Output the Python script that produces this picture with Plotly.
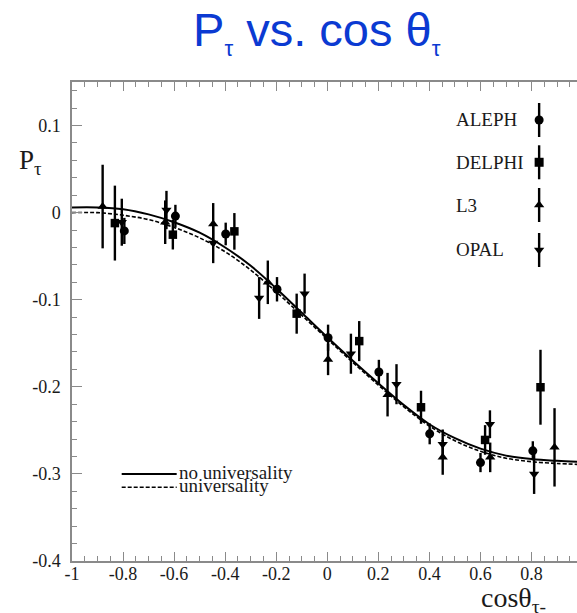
import plotly.graph_objects as go

# ---------------- data ----------------
aleph_x = [-0.795, -0.595, -0.398, -0.197, 0.003, 0.202, 0.401, 0.600, 0.805]
aleph_y = [-0.021, -0.004, -0.0245, -0.088, -0.1436, -0.183, -0.254, -0.287, -0.2735]
aleph_e = [0.015, 0.013, 0.013, 0.014, 0.015, 0.014, 0.012, 0.011, 0.011]

delphi_x = [-0.832, -0.605, -0.364, -0.12, 0.125, 0.367, 0.618, 0.835]
delphi_y = [-0.012, -0.0253, -0.0215, -0.116, -0.1475, -0.2235, -0.261, -0.2005]
delphi_e = [0.043, 0.017, 0.021, 0.023, 0.023, 0.019, 0.017, 0.043]

l3_x = [-0.88, -0.635, -0.447, -0.233, 0.003, 0.236, 0.452, 0.638, 0.89]
l3_y = [0.007, -0.011, -0.013, -0.080, -0.1686, -0.209, -0.281, -0.281, -0.2695]
l3_e = [0.048, 0.025, 0.024, 0.025, 0.018, 0.025, 0.02, 0.017, 0.045]

opal_x = [-0.805, -0.63, -0.447, -0.267, -0.089, 0.0925, 0.271, 0.452, 0.637, 0.81]
opal_y = [-0.011, 0.003, -0.035, -0.098, -0.093, -0.162, -0.197, -0.266, -0.243, -0.300]
opal_e = [0.027, 0.022, 0.023, 0.024, 0.023, 0.023, 0.023, 0.017, 0.016, 0.023]

curve_x = [-1.0, -0.9, -0.8, -0.7, -0.6, -0.5, -0.4, -0.3, -0.2, -0.1, 0.0,
           0.1, 0.2, 0.3, 0.4, 0.5, 0.6, 0.7, 0.8, 0.9, 0.978]
no_univ_y = [0.006, 0.006, 0.004, -0.002, -0.011, -0.023, -0.040, -0.061, -0.087, -0.115, -0.143,
             -0.170, -0.196, -0.221, -0.243, -0.259, -0.271, -0.279, -0.283, -0.285, -0.286]
univ_y = [0.000, 0.000, -0.003, -0.008, -0.017, -0.029, -0.045, -0.066, -0.091, -0.118, -0.145,
          -0.172, -0.198, -0.223, -0.245, -0.262, -0.274, -0.282, -0.286, -0.288, -0.289]

x_tickvals = [-1, -0.8, -0.6, -0.4, -0.2, 0, 0.2, 0.4, 0.6, 0.8]
x_ticktext = ["-1", "-0.8", "-0.6", "-0.4", "-0.2", "0", "0.2", "0.4", "0.6", "0.8"]
y_tickvals = [0.1, 0, -0.1, -0.2, -0.3, -0.4]
y_ticktext = ["0.1", "0", "-0.1", "-0.2", "-0.3", "-0.4"]

experiments = ["ALEPH", "DELPHI", "L3", "OPAL"]
symbols = ["circle", "square", "triangle-up", "triangle-down"]
curve_names = ["no universality", "universality"]

# ---------------- styling ----------------
SERIF = "Liberation Serif, Times New Roman, serif"
AXIS_COL = "#8a8a8a"
MK = 9
ERR_W = 2.4

fig = go.Figure()

fig.add_trace(go.Scatter(x=curve_x, y=univ_y, mode="lines", line=dict(color="black", width=1.6, dash="4px,2px"),
                         line_shape="spline", showlegend=False, hoverinfo="skip"))
fig.add_trace(go.Scatter(x=curve_x, y=no_univ_y, mode="lines", line=dict(color="black", width=2),
                         line_shape="spline", showlegend=False, hoverinfo="skip"))

series = [(aleph_x, aleph_y, aleph_e), (delphi_x, delphi_y, delphi_e), (l3_x, l3_y, l3_e), (opal_x, opal_y, opal_e)]
for (xs, ys, es), name, sym in zip(series, experiments, symbols):
    fig.add_trace(go.Scatter(
        x=xs, y=ys, mode="markers", name=name,
        marker=dict(symbol=sym, size=MK if sym != "square" else MK - 0.5, color="black"),
        error_y=dict(type="data", array=es, visible=True, color="black", thickness=ERR_W, width=0),
        showlegend=False))

# ---------------- custom legend keys (overlay axis in plot-fraction units) ----------------
key_x = 0.925
key_text_x = 0.757
key_ys = [0.9207, 0.8324, 0.7432, 0.6493]
key_err = 0.0355
for name, sym, ky in zip(experiments, symbols, key_ys):
    fig.add_trace(go.Scatter(
        x=[key_x], y=[ky], mode="markers", xaxis="x3", yaxis="y3",
        marker=dict(symbol=sym, size=MK, color="black"),
        error_y=dict(type="constant", value=key_err, color="black", thickness=ERR_W, width=0),
        showlegend=False, hoverinfo="skip"))
    fig.add_annotation(x=key_text_x, y=ky, xref="paper", yref="paper", text=name, showarrow=False,
                       xanchor="left", yanchor="middle", font=dict(family=SERIF, size=19, color="#1a1a1a"))

line_key_x = [0.0984, 0.2073]
line_key_y = [0.1816, 0.1539]
fig.add_trace(go.Scatter(x=line_key_x, y=[line_key_y[0]] * 2, mode="lines", xaxis="x3", yaxis="y3",
                         line=dict(color="black", width=2), showlegend=False, hoverinfo="skip"))
fig.add_trace(go.Scatter(x=line_key_x, y=[line_key_y[1]] * 2, mode="lines", xaxis="x3", yaxis="y3",
                         line=dict(color="black", width=1.6, dash="4px,2px"), showlegend=False, hoverinfo="skip"))
for name, ky in zip(curve_names, line_key_y):
    fig.add_annotation(x=0.2075, y=ky + 0.004, xref="paper", yref="paper", text=name, showarrow=False,
                       xanchor="left", yanchor="middle", font=dict(family=SERIF, size=19, color="#1a1a1a"))

# axis titles
fig.add_annotation(x=-0.109, y=0.832, xref="paper", yref="paper", text="P<sub>τ</sub>", showarrow=False,
                   xanchor="left", yanchor="middle", font=dict(family=SERIF, size=27, color="#1a1a1a"))
fig.add_annotation(x=0.806, y=-0.08, xref="paper", yref="paper", text="cosθ<sub>τ-</sub>", showarrow=False,
                   xanchor="left", yanchor="middle", font=dict(family=SERIF, size=28, color="#1a1a1a"))

fig.update_layout(
    width=577, height=613,
    margin=dict(l=72, r=0, t=82, b=52),
    paper_bgcolor="white", plot_bgcolor="white",
    title=dict(text='P<sub><span style="font-size:22px">τ</span></sub> vs. cos θ<sub><span style="font-size:22px">τ</span></sub>',
               x=316.7 / 577, xanchor="center", xref="container",
               y=1 - 30 / 613, yanchor="middle", yref="container",
               font=dict(family="Liberation Sans, Arial, sans-serif", size=47, color="#0B3AD2")),
    showlegend=False,
    xaxis=dict(range=[-1, 0.978], tickvals=x_tickvals, ticktext=x_ticktext, ticks="inside", ticklen=9,
               tickwidth=1.2, tickcolor=AXIS_COL, showline=True, linecolor=AXIS_COL, linewidth=1.5,
               mirror="allticks", showgrid=False, zeroline=False,
               tickfont=dict(family=SERIF, size=18, color="#1a1a1a"), ticklabelstandoff=-4,
               minor=dict(dtick=0.05, tick0=-1, ticks="inside", ticklen=5, tickcolor=AXIS_COL, tickwidth=1.1)),
    yaxis=dict(range=[-0.4, 0.15], tickvals=y_tickvals, ticktext=y_ticktext, ticks="inside", ticklen=10,
               tickwidth=1.2, tickcolor=AXIS_COL, showline=True, linecolor=AXIS_COL, linewidth=1.5,
               mirror=False, showgrid=False, zeroline=False,
               tickfont=dict(family=SERIF, size=18, color="#1a1a1a"), ticklabelstandoff=6,
               minor=dict(dtick=0.02, tick0=0, ticks="inside", ticklen=5, tickcolor=AXIS_COL, tickwidth=1.1)),
    yaxis2=dict(range=[-0.4, 0.15], overlaying="y", side="right", anchor="x", tickvals=y_tickvals,
                ticks="inside", ticklen=8, tickcolor=AXIS_COL, showline=False, showticklabels=False,
                showgrid=False, zeroline=False),
    xaxis3=dict(range=[0, 1], overlaying="x", visible=False, anchor="y3"),
    yaxis3=dict(range=[0, 1], overlaying="y", visible=False, anchor="x3"),
)

fig.write_html("out.html", config={"displayModeBar": False},
               post_script="document.body.style.margin='0';document.body.style.overflow='hidden';")
